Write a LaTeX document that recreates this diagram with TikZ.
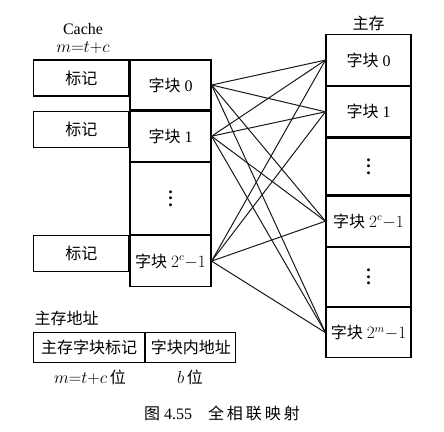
\documentclass[tikz,border=0pt]{standalone}
\usepackage{fontspec}
\setmainfont{Liberation Serif}
\newfontfamily\cjk{Noto Sans CJK SC}
\usetikzlibrary{positioning,calc}

\newcommand{\bigvdots}{\vbox{\fontsize{18}{6}\selectfont\bfseries\baselineskip=6.5pt\lineskiplimit=-20pt\hbox{.}\hbox{.}\hbox{.}}}

\tikzset{
  blk/.style={draw,line width=1.2pt,minimum width=81pt,inner sep=0pt},
  mblk/.style={draw,line width=1.2pt,minimum width=85pt,inner sep=0pt},
  tagbox/.style={draw,line width=1.2pt,minimum width=95pt,minimum height=36pt,inner sep=0pt},
  link/.style={line width=1pt,black!90},
  every node/.style={font=\fontsize{16}{18}\selectfont}
}

\begin{document}
\begin{tikzpicture}[x=1pt,y=-1pt]
\useasboundingbox (0,0) rectangle (444,431);
% cache
\node[blk,minimum height=50pt] at (170.5,85) (c0) {{\cjk 字块}\ 0};
\node[blk,minimum height=50pt,anchor=north] at (c0.south) (c1) {{\cjk 字块}\ 1};
\node[blk,minimum height=72pt,anchor=north] at (c1.south) (cd) {\bigvdots};
\node[blk,minimum height=51pt,anchor=north] at (cd.south) (cl) {{\cjk 字块}\ $2^c{-}1$};
\node[tagbox,anchor=north east] at (c0.north west) (t0) {\cjk 标记};
\node[tagbox,anchor=north east] at (c1.north west) (t1) {\cjk 标记};
\node[tagbox,anchor=north east] at (cl.north west) (tl) {\cjk 标记};
\node at (83,29) (cache) {Cache};
\node at (83,48) (mtc) {$m{=}t{+}c$};
% main memory
\node[mblk,minimum height=51pt,anchor=north] at (368.5,34) (m0) {{\cjk 字块}\ 0};
\node[mblk,minimum height=50pt,anchor=north] at (m0.south) (m1) {{\cjk 字块}\ 1};
\node[mblk,minimum height=57pt,anchor=north] at (m1.south) (md) {\bigvdots};
\node[mblk,minimum height=50pt,anchor=north] at (md.south) (mc) {{\cjk 字块}\ $2^c{-}1$};
\node[mblk,minimum height=59pt,anchor=north] at (mc.south) (me) {\bigvdots};
\node[mblk,minimum height=50pt,anchor=north] at (me.south) (mm) {{\cjk 字块}\ $2^m{-}1$};
\node[above=0pt of m0.north] (mem) {\cjk 主存};
% links
\foreach \a in {c0,c1,cl}
  \foreach \b in {m0,m1,mc,mm}
    \draw[link] (\a.east) -- (\b.west);
% address
\node[anchor=west] at (31,318) (addr) {\cjk 主存地址};
\node[draw,line width=1.2pt,minimum width=111pt,minimum height=30pt,inner sep=0pt,anchor=north west] at (33,332) (a0) {\cjk 主存字块标记};
\node[draw,line width=1.2pt,minimum width=90pt,minimum height=30pt,inner sep=0pt,anchor=north west] at (a0.north east) (a1) {\cjk 字块内地址};
\node at (90,377) (w0) {$m{=}t{+}c$\,{\cjk 位}};
\node at (190,377) (w1) {$b$\,{\cjk 位}};
\node at (222,413) (cap) {{\cjk 图}\ 4.55\hspace{16pt}{\cjk 全\kern3pt 相\kern3pt 联\kern3pt 映\kern3pt 射}};
\end{tikzpicture}
\end{document}
